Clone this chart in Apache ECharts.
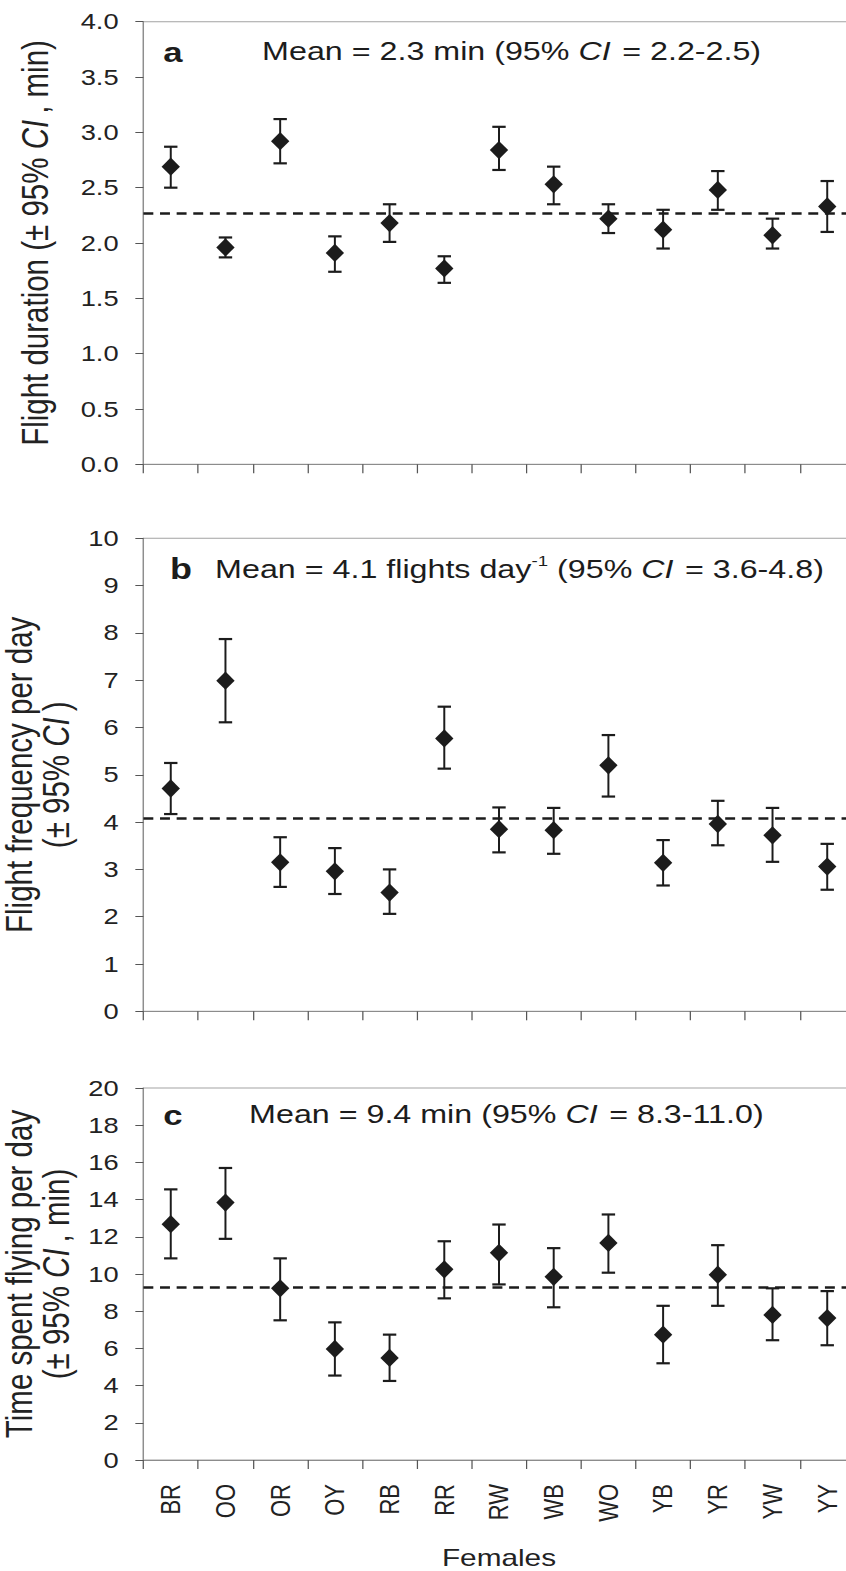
<!DOCTYPE html>
<html>
<head>
<meta charset="utf-8">
<script src="https://cdn.jsdelivr.net/npm/echarts@6/dist/echarts.min.js"></script>
<style>
  html, body { margin: 0; padding: 0; background: #fff; }
  #wrap { width: 846px; height: 1571px; overflow: hidden; position: relative; background: #fff; }
  #chart { width: 682px; height: 1571px; transform: scaleX(1.2405); transform-origin: 0 0; }
</style>
</head>
<body>
<div id="wrap"><div id="chart"></div></div>
<script>
// ---------------- data ----------------
const categories = ['BR', 'OO', 'OR', 'OY', 'RB', 'RR', 'RW', 'WB', 'WO', 'YB', 'YR', 'YW', 'YY'];

// a: flight duration (min)
const durationMean = [2.69, 1.96, 2.92, 1.91, 2.18, 1.77, 2.84, 2.53, 2.22, 2.12, 2.48, 2.07, 2.33];
const durationLow  = [2.50, 1.87, 2.72, 1.74, 2.01, 1.64, 2.66, 2.35, 2.09, 1.95, 2.30, 1.95, 2.10];
const durationHigh = [2.87, 2.05, 3.12, 2.06, 2.35, 1.88, 3.05, 2.69, 2.35, 2.30, 2.65, 2.22, 2.56];
const durationOverall = 2.27;

// b: flight frequency per day
const freqMean = [4.71, 6.99, 3.15, 2.96, 2.51, 5.77, 3.85, 3.83, 5.20, 3.14, 3.96, 3.72, 3.06];
const freqLow  = [4.17, 6.11, 2.63, 2.48, 2.06, 5.13, 3.36, 3.33, 4.54, 2.66, 3.51, 3.16, 2.57];
const freqHigh = [5.25, 7.87, 3.68, 3.45, 3.00, 6.44, 4.31, 4.30, 5.84, 3.62, 4.45, 4.30, 3.54];
const freqOverall = 4.09;

// c: time spent flying per day (min)
const timeMean = [12.68, 13.84, 9.23, 5.97, 5.49, 10.25, 11.14, 9.85, 11.67, 6.74, 9.96, 7.80, 7.63];
const timeLow  = [10.84, 11.89, 7.51, 4.54, 4.25, 8.69, 9.44, 8.21, 10.07, 5.20, 8.29, 6.44, 6.17];
const timeHigh = [14.55, 15.70, 10.84, 7.40, 6.74, 11.76, 12.66, 11.39, 13.20, 8.29, 11.55, 9.23, 9.08];
const timeOverall = 9.3;

// axis ranges / ticks
const yRangeA = { min: 0, max: 4, interval: 0.5 };
const yRangeB = { min: 0, max: 10, interval: 1 };
const yRangeC = { min: 0, max: 20, interval: 2 };

// ---------------- styling ----------------
const FONT = "'Liberation Sans', Arial, Helvetica, sans-serif";
const INK = '#1c1c1c';
const TEXT = '#222222';
const AXIS = '#8c8c8c';
const TICK = '#555555';
const GRID_LEFT = 115.6;
const GRID_W = 13 * 44.1;

const chart = echarts.init(document.getElementById('chart'), null, { renderer: 'svg', width: 682, height: 1571 });

function gridBox(top, height) {
  return { left: GRID_LEFT, top: top, width: GRID_W, height: height, show: true,
    borderColor: '#a3a3a3', borderWidth: 1, backgroundColor: 'transparent',
    containLabel: false, outerBoundsMode: 'none' };
}

function xAxisFor(idx, showLabels) {
  return {
    type: 'category', gridIndex: idx, data: categories, boundaryGap: true,
    axisLine: { show: true, lineStyle: { color: AXIS, width: 1 } },
    axisTick: { show: true, alignWithLabel: false, interval: 0, length: 9, lineStyle: { color: TICK, width: 1 } },
    axisLabel: { show: showLabels, interval: 0, rotate: 90, margin: 24, fontSize: 22, fontFamily: FONT, color: TEXT },
    splitLine: { show: false },
    name: showLabels ? 'Females' : '', nameLocation: 'middle', nameGap: 86,
    nameTextStyle: { fontSize: 24, fontFamily: FONT, color: TEXT }
  };
}

function yAxisFor(idx, range, name, nameGap, lineHeight, fmt) {
  const ts = { fontSize: 29.5, lineHeight: lineHeight, fontFamily: FONT, color: TEXT };
  return {
    type: 'value', gridIndex: idx, min: range.min, max: range.max, interval: range.interval,
    axisLine: { show: true, lineStyle: { color: AXIS, width: 1 } },
    axisTick: { show: true, length: 6.5, lineStyle: { color: TICK, width: 1 } },
    axisLabel: { margin: 20, fontSize: 22, fontFamily: FONT, color: TEXT, formatter: fmt },
    splitLine: { show: false },
    name: name, nameLocation: 'middle', nameRotate: 90, nameGap: nameGap,
    nameTextStyle: Object.assign({}, ts, {
      rich: { i: Object.assign({}, ts, { fontStyle: 'italic', padding: [0, 6, 0, 0] }) }
    })
  };
}

function errorBar(params, api) {
  const i = api.value(0);
  const lo = api.coord([i, api.value(1)]);
  const hi = api.coord([i, api.value(2)]);
  const hw = 5.4;
  return {
    type: 'group',
    children: [
      { type: 'line', shape: { x1: lo[0], y1: lo[1], x2: hi[0], y2: hi[1] }, style: { stroke: INK, lineWidth: 1.6 } },
      { type: 'line', shape: { x1: lo[0] - hw, y1: lo[1], x2: lo[0] + hw, y2: lo[1] }, style: { stroke: INK, lineWidth: 2.2 } },
      { type: 'line', shape: { x1: hi[0] - hw, y1: hi[1], x2: hi[0] + hw, y2: hi[1] }, style: { stroke: INK, lineWidth: 2.2 } }
    ]
  };
}

function panelSeries(idx, mean, low, high, overall) {
  return [
    {
      type: 'custom', xAxisIndex: idx, yAxisIndex: idx, silent: true, z: 3,
      data: categories.map((c, i) => [i, low[i], high[i]]),
      renderItem: errorBar
    },
    {
      type: 'scatter', xAxisIndex: idx, yAxisIndex: idx, silent: true, z: 4,
      data: mean, symbol: 'diamond', symbolSize: [14.8, 18.3],
      itemStyle: { color: INK, opacity: 1 },
      markLine: {
        silent: true, symbol: ['none', 'none'], label: { show: false }, animation: false,
        lineStyle: { color: INK, width: 2.6, type: [8, 5.4] },
        data: [{ yAxis: overall }]
      }
    }
  ];
}

function note(x, y, text, size, extra) {
  const base = { fontSize: size, fontFamily: FONT, fill: INK };
  return {
    type: 'text', x: x, y: y, silent: true,
    style: Object.assign({
      text: text, fontSize: size, fontFamily: FONT, fill: INK,
      verticalAlign: 'middle', align: 'left',
      rich: {
        n: Object.assign({}, base, { lineHeight: 30 }),
        i: Object.assign({}, base, { fontStyle: 'italic', lineHeight: 30, padding: [0, 2, 0, 0] }),
        s: Object.assign({}, base, { fontSize: 15, lineHeight: 15, verticalAlign: 'top' })
      }
    }, extra || {})
  };
}

const option = {
  animation: false,
  backgroundColor: '#ffffff',
  grid: [gridBox(21.7, 442.6), gridBox(538.3, 473), gridBox(1088, 372)],
  xAxis: [xAxisFor(0, false), xAxisFor(1, false), xAxisFor(2, true)],
  yAxis: [
    yAxisFor(0, yRangeA, 'Flight duration (± 95% {i|CI}, min)', 70, 34, v => v.toFixed(1)),
    yAxisFor(1, yRangeB, 'Flight frequency per day\n(± 95% {i|CI})', 40, 30, v => String(v)),
    yAxisFor(2, yRangeC, 'Time spent flying per day\n(± 95% {i|CI}, min)', 40, 30, v => String(v))
  ],
  series: [].concat(
    panelSeries(0, durationMean, durationLow, durationHigh, durationOverall),
    panelSeries(1, freqMean, freqLow, freqHigh, freqOverall),
    panelSeries(2, timeMean, timeLow, timeHigh, timeOverall)
  ),
  graphic: [
    note(131.5, 52, 'a', 28, { fontWeight: 'bold' }),
    note(211.3, 51, '{n|Mean = 2.3 min (95% }{i|CI}{n| = 2.2-2.5)}', 26),
    note(137.1, 569, 'b', 29, { fontWeight: 'bold' }),
    note(173.4, 569, '{n|Mean = 4.1 flights day}{s|-1}{n| (95% }{i|CI}{n| = 3.6-4.8)}', 26),
    note(131.5, 1115, 'c', 28, { fontWeight: 'bold' }),
    note(200.8, 1113.7, '{n|Mean = 9.4 min (95% }{i|CI}{n| = 8.3-11.0)}', 26)
  ]
};

chart.setOption(option);
</script>
</body>
</html>
